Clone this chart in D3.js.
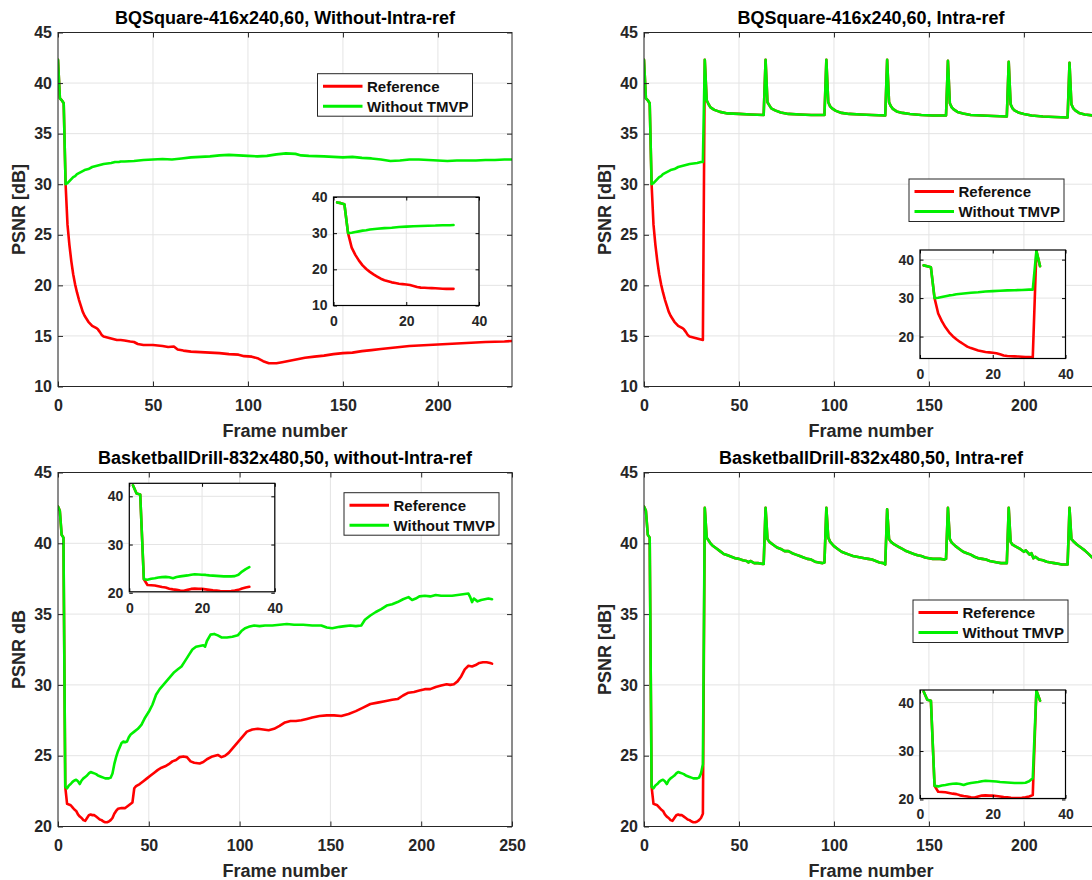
<!DOCTYPE html>
<html>
<head>
<meta charset="utf-8">
<script src="https://cdn.jsdelivr.net/npm/d3@7"></script>
<style>
  body { margin: 0; background: #fff; overflow: hidden; }
  svg { display: block; font-family: 'Liberation Sans', Arial, Helvetica, sans-serif; font-weight: bold; }
</style>
</head>
<body>
<div id="chart"></div>
<script>
// ── data: [frame, PSNR] ─────────────────────────────────────────
const seriesNames = ['Reference', 'Without TMVP']

// BQSquare, first GOP (same in both configurations)
const bqRefStart = [[0,42.3],[1,38.5],[2,38.3],[3,38.0],[4,30.0],[5,26.0],[6,24.0],[7,22.4],[8,21.1],[9,20.1],[10,19.3],[11,18.6],[12,18.0],[13,17.4],[14,17.0],[15,16.7],[16,16.4],[17,16.2],[18,16.0],[19,15.9],[20,15.8],[21,15.65],[22,15.4],[23,15.1],[24,14.95],[25,14.9],[26,14.85],[27,14.8],[28,14.75],[29,14.7],[30,14.65],[31,14.6]]
const bqNoTmvpStart = [[0,42.3],[1,38.5],[2,38.3],[3,38.0],[4,30.0],[5,30.1],[6,30.3],[7,30.5],[8,30.7],[9,30.8],[10,31.0],[12,31.2],[14,31.4],[16,31.5],[18,31.7],[20,31.8],[22,31.9],[24,32.0],[26,32.05],[28,32.1],[30,32.2],[31,32.2]]

// BQSquare, without intra refresh
const bqRefTail = [[32,14.6],[33,14.6],[35,14.55],[38,14.45],[40,14.4],[42,14.2],[45,14.1],[50,14.1],[55,14.0],[58,13.9],[61,13.95],[63,13.65],[66,13.55],[70,13.45],[75,13.4],[80,13.35],[85,13.3],[90,13.2],[95,13.15],[98,13.0],[102,12.95],[105,12.8],[108,12.5],[111,12.3],[115,12.3],[118,12.4],[122,12.55],[126,12.7],[130,12.85],[135,12.95],[140,13.05],[145,13.2],[150,13.3],[155,13.35],[160,13.5],[165,13.6],[170,13.7],[175,13.8],[180,13.9],[185,14.0],[190,14.05],[195,14.1],[200,14.15],[205,14.2],[210,14.25],[215,14.3],[220,14.35],[225,14.4],[230,14.42],[235,14.45],[239,14.5]]
const bqNoTmvpTail = [[32,32.2],[33,32.25],[35,32.25],[40,32.3],[45,32.4],[50,32.45],[55,32.5],[60,32.45],[65,32.55],[70,32.65],[75,32.7],[80,32.75],[85,32.85],[90,32.9],[95,32.85],[100,32.8],[105,32.75],[110,32.8],[115,32.95],[120,33.05],[125,33.0],[128,32.85],[132,32.8],[140,32.75],[145,32.7],[150,32.65],[155,32.7],[160,32.6],[165,32.55],[170,32.45],[175,32.3],[180,32.35],[185,32.45],[190,32.45],[195,32.4],[200,32.35],[205,32.3],[210,32.35],[215,32.35],[220,32.35],[225,32.4],[230,32.4],[235,32.45],[239,32.45]]

// BQSquare, intra refresh every 32 frames (both curves coincide)
const bqIntraTail = [
  [32,42.3],[33,38.3],[34,37.9],[35,37.6],[37,37.35],[40,37.15],[44,37.0],[50,36.95],[56,36.9],[63,36.85],
  [64,42.3],[65,38.1],[66,37.8],[67,37.5],[69,37.3],[72,37.1],[76,36.95],[82,36.9],[88,36.85],[95,36.85],
  [96,42.3],[97,38.1],[98,37.7],[99,37.5],[101,37.25],[104,37.05],[108,36.95],[114,36.9],[120,36.85],[127,36.8],
  [128,42.3],[129,38.1],[130,37.7],[131,37.45],[133,37.2],[136,37.05],[140,36.95],[146,36.85],[152,36.8],[159,36.8],
  [160,42.2],[161,38.0],[162,37.6],[163,37.4],[165,37.15],[168,37.0],[172,36.85],[178,36.8],[184,36.75],[191,36.7],
  [192,42.1],[193,37.9],[194,37.5],[195,37.3],[197,37.1],[200,36.95],[204,36.8],[210,36.7],[216,36.65],[223,36.6],
  [224,42.0],[225,37.9],[226,37.5],[227,37.3],[229,37.05],[232,36.9],[236,36.8],[239,36.75]]

// BasketballDrill, first GOP (same in both configurations)
const bdRefStart = [[0,42.6],[1,42.3],[2,40.6],[3,40.4],[4,22.8],[5,21.6],[6,21.55],[7,21.5],[8,21.35],[9,21.2],[10,21.1],[11,20.85],[12,20.7],[13,20.6],[14,20.45],[15,20.4],[16,20.6],[17,20.8],[18,20.85],[19,20.8],[20,20.8],[21,20.7],[22,20.6],[23,20.5],[24,20.45],[25,20.35],[26,20.3],[27,20.3],[28,20.35],[29,20.45],[30,20.6],[31,20.9]]
const bdNoTmvpStart = [[0,42.6],[1,42.3],[2,40.6],[3,40.4],[4,22.8],[5,22.7],[6,22.9],[7,23.0],[8,23.15],[9,23.25],[10,23.3],[11,23.2],[12,23.0],[13,23.25],[14,23.4],[15,23.5],[16,23.6],[17,23.75],[18,23.85],[19,23.8],[20,23.75],[21,23.7],[22,23.6],[23,23.55],[24,23.5],[25,23.45],[26,23.4],[27,23.4],[28,23.4],[29,23.45],[30,23.75],[31,24.4]]

// BasketballDrill, without intra refresh
const bdRefTail = [[32,21.1],[33,21.25],[35,21.3],[37,21.3],[39,21.5],[41,21.7],[42,22.7],[43,22.85],[45,23.0],[47,23.2],[49,23.4],[51,23.6],[53,23.8],[55,24.0],[57,24.15],[59,24.25],[61,24.4],[63,24.6],[65,24.7],[67,24.9],[69,24.95],[71,24.9],[73,24.6],[75,24.5],[78,24.45],[80,24.55],[82,24.75],[85,24.95],[88,25.05],[90,24.9],[92,25.0],[94,25.2],[96,25.5],[98,25.8],[100,26.1],[102,26.4],[104,26.7],[107,26.85],[110,26.9],[113,26.85],[116,26.8],[119,26.9],[122,27.1],[125,27.35],[128,27.45],[131,27.45],[134,27.5],[137,27.6],[140,27.7],[144,27.8],[148,27.85],[152,27.85],[156,27.8],[160,27.95],[164,28.15],[168,28.4],[172,28.65],[176,28.75],[180,28.85],[184,28.95],[187,29.0],[190,29.25],[193,29.45],[196,29.5],[199,29.6],[202,29.7],[205,29.7],[208,29.85],[211,29.95],[214,30.05],[216,30.0],[218,30.05],[220,30.25],[222,30.6],[224,31.1],[226,31.35],[228,31.3],[230,31.4],[232,31.55],[234,31.6],[236,31.6],[238,31.55],[239,31.5]]
const bdNoTmvpTail = [[32,24.9],[33,25.3],[34,25.6],[35,25.9],[36,26.0],[37,25.95],[38,26.0],[39,26.3],[40,26.5],[42,26.7],[44,26.9],[46,27.2],[48,27.7],[50,28.1],[52,28.6],[54,29.3],[56,29.7],[58,30.0],[60,30.3],[62,30.6],[64,30.9],[66,31.1],[68,31.3],[70,31.7],[72,32.1],[74,32.5],[76,32.7],[78,32.75],[80,32.8],[81,32.7],[82,33.1],[84,33.55],[86,33.6],[88,33.5],[90,33.35],[93,33.35],[96,33.4],[99,33.5],[101,33.8],[103,34.0],[105,34.1],[108,34.2],[111,34.15],[114,34.2],[118,34.2],[122,34.25],[126,34.3],[130,34.25],[135,34.25],[140,34.2],[145,34.2],[148,34.05],[151,34.0],[155,34.1],[158,34.15],[161,34.2],[164,34.15],[167,34.2],[169,34.6],[172,34.9],[175,35.15],[178,35.35],[181,35.6],[184,35.7],[187,35.85],[190,36.05],[193,36.2],[195,36.0],[197,36.1],[199,36.25],[202,36.3],[205,36.25],[208,36.35],[211,36.3],[214,36.3],[217,36.3],[220,36.35],[223,36.4],[226,36.45],[227,36.2],[228,35.85],[229,36.1],[231,35.9],[233,36.0],[235,36.05],[237,36.1],[239,36.05]]

// BasketballDrill, intra refresh every 32 frames (both curves coincide)
const bdIntraTail = [
  [32,42.5],[33,40.4],[34,40.2],[35,40.0],[36,39.85],[38,39.65],[40,39.45],[42,39.25],[44,39.15],[46,39.05],[48,38.95],[50,38.9],[52,38.8],[54,38.75],[55,38.65],[56,38.75],[58,38.6],[60,38.6],[62,38.55],[63,38.55],
  [64,42.5],[65,40.3],[66,40.1],[68,39.9],[70,39.7],[72,39.6],[74,39.45],[76,39.45],[78,39.3],[80,39.2],[82,39.1],[84,39.0],[86,38.9],[88,38.85],[90,38.7],[92,38.65],[94,38.6],[95,38.65],
  [96,42.5],[97,40.4],[98,40.1],[100,39.8],[102,39.6],[104,39.4],[106,39.3],[108,39.2],[110,39.1],[112,39.05],[114,39.0],[116,38.95],[118,38.9],[120,38.85],[122,38.75],[124,38.65],[126,38.6],[127,38.5],
  [128,42.4],[129,40.3],[130,40.1],[132,39.9],[134,39.75],[136,39.6],[138,39.45],[140,39.35],[142,39.25],[144,39.15],[146,39.1],[148,39.0],[150,38.95],[152,38.9],[154,38.9],[156,38.9],[158,38.85],[159,38.9],
  [160,42.5],[161,40.3],[162,40.05],[164,39.8],[166,39.6],[168,39.4],[170,39.3],[172,39.2],[174,39.05],[176,38.95],[178,38.9],[180,38.85],[182,38.75],[184,38.7],[186,38.65],[188,38.6],[190,38.6],[191,38.6],
  [192,42.5],[193,40.1],[194,39.9],[196,39.75],[198,39.6],[200,39.4],[201,39.5],[203,39.2],[204,39.3],[205,38.95],[206,39.05],[208,38.85],[210,38.8],[212,38.7],[214,38.65],[216,38.6],[218,38.55],[220,38.5],[222,38.5],[223,38.5],
  [224,42.5],[225,40.3],[226,40.15],[228,39.9],[230,39.7],[232,39.5],[234,39.25],[236,39.0],[238,38.9],[239,38.85]]

// ── ticks / labels ──────────────────────────────────────────────
const xTicks200 = [0, 50, 100, 150, 200]
const xTicks250 = [0, 50, 100, 150, 200, 250]
const yTicksBQ = [10, 15, 20, 25, 30, 35, 40, 45]
const yTicksBD = [20, 25, 30, 35, 40, 45]
const insetXTicks = [0, 20, 40]
const insetFrames = [1, 33]

const W = 1092, H = 880
const PLOT_W = 454, PLOT_H = 354
const INSET_W = 145.5, INSET_H = 108.5
const RED = '#ff0000', GREEN = '#00f000', GRID = '#e4e4e4', AXIS = '#262626'

const panels = [
  { x: 58, y: 32.5, title: 'BQSquare-416x240,60, Without-Intra-ref', yLabel: 'PSNR [dB]',
    xMax: 239, xTicks: xTicks200, yDomain: [10, 45], yTicks: yTicksBQ,
    ref: bqRefStart.concat(bqRefTail), noTmvp: bqNoTmvpStart.concat(bqNoTmvpTail),
    legend: [259.5, 41.2],
    inset: { x: 275.5, y: 164.5, yDomain: [10, 40], yTicks: [10, 20, 30, 40] } },
  { x: 644, y: 32.5, title: 'BQSquare-416x240,60, Intra-ref', yLabel: 'PSNR [dB]',
    xMax: 239, xTicks: xTicks200, yDomain: [10, 45], yTicks: yTicksBQ,
    ref: bqRefStart.concat(bqIntraTail), noTmvp: bqNoTmvpStart.concat(bqIntraTail),
    legend: [265, 146.5],
    inset: { x: 276, y: 217.5, yDomain: [14.3, 42.5], yTicks: [20, 30, 40] } },
  { x: 58, y: 472.5, title: 'BasketballDrill-832x480,50, without-Intra-ref', yLabel: 'PSNR dB',
    xMax: 250, xTicks: xTicks250, yDomain: [20, 45], yTicks: yTicksBD,
    ref: bdRefStart.concat(bdRefTail), noTmvp: bdNoTmvpStart.concat(bdNoTmvpTail),
    legend: [286, 20.2],
    inset: { x: 71.3, y: 10.8, yDomain: [20.2, 42.7], yTicks: [20, 30, 40] } },
  { x: 644, y: 472.5, title: 'BasketballDrill-832x480,50, Intra-ref', yLabel: 'PSNR [dB]',
    xMax: 239, xTicks: xTicks200, yDomain: [20, 45], yTicks: yTicksBD,
    ref: bdRefStart.concat(bdIntraTail), noTmvp: bdNoTmvpStart.concat(bdIntraTail),
    legend: [269, 127.5],
    inset: { x: 276, y: 217.5, yDomain: [20.2, 42.6], yTicks: [20, 30, 40] } },
]

const svg = d3.select('#chart').append('svg')
  .attr('width', W).attr('height', H)
const defs = svg.append('defs')

// ── helpers ─────────────────────────────────────────────────────
function drawGrid(g, x, y, xTicks, yTicks) {
  const w = x.range()[1], h = y.range()[0]
  g.append('rect').attr('width', w).attr('height', h).attr('fill', '#fff')
  g.append('g').selectAll('line').data(xTicks).join('line')
    .attr('x1', d => x(d)).attr('x2', d => x(d)).attr('y1', 0).attr('y2', h)
    .attr('stroke', GRID).attr('stroke-width', 1)
  g.append('g').selectAll('line').data(yTicks).join('line')
    .attr('x1', 0).attr('x2', w).attr('y1', d => y(d)).attr('y2', d => y(d))
    .attr('stroke', GRID).attr('stroke-width', 1)
}

function drawAxes(g, x, y, xTicks, yTicks, o) {
  const w = x.range()[1], h = y.range()[0]
  const put = (axis, tr) => g.append('g').attr('transform', tr).call(axis)
    .attr('font-family', null).attr('font-size', o.font).attr('color', o.color)
    .call(s => s.select('.domain').remove())
  put(d3.axisBottom(x).tickValues(xTicks).tickSizeInner(-o.tick).tickSizeOuter(0).tickPadding(o.xPad), `translate(0,${h})`)
  put(d3.axisLeft(y).tickValues(yTicks).tickSizeInner(-o.tick).tickSizeOuter(0).tickPadding(o.yPad), 'translate(0,0)')
  put(d3.axisTop(x).tickValues(xTicks).tickSizeInner(-o.tick).tickSizeOuter(0).tickFormat(''), 'translate(0,0)')
  put(d3.axisRight(y).tickValues(yTicks).tickSizeInner(-o.tick).tickSizeOuter(0).tickFormat(''), `translate(${w},0)`)
  g.selectAll('.tick text').attr('fill', o.text)
  g.append('rect').attr('width', w).attr('height', h)
    .attr('fill', 'none').attr('stroke', o.color).attr('stroke-width', o.box)
}

function drawLines(g, x, y, series, clipId) {
  defs.append('clipPath').attr('id', clipId)
    .append('rect').attr('width', x.range()[1]).attr('height', y.range()[0])
  const line = d3.line().x(d => x(d[0])).y(d => y(d[1]))
  g.append('g').attr('clip-path', `url(#${clipId})`)
    .selectAll('path').data(series).join('path')
    .attr('d', d => line(d.values)).attr('fill', 'none')
    .attr('stroke', d => d.color).attr('stroke-width', 2.6)
    .attr('stroke-linejoin', 'round').attr('stroke-linecap', 'round')
}

// ── panels ──────────────────────────────────────────────────────
panels.forEach((p, i) => {
  const g = svg.append('g').attr('transform', `translate(${p.x},${p.y})`)
  const x = d3.scaleLinear().domain([0, p.xMax]).range([0, PLOT_W])
  const y = d3.scaleLinear().domain(p.yDomain).range([PLOT_H, 0])
  const series = [{ color: RED, values: p.ref }, { color: GREEN, values: p.noTmvp }]

  drawGrid(g, x, y, p.xTicks, p.yTicks)
  drawLines(g, x, y, series, `clip-main-${i}`)
  drawAxes(g, x, y, p.xTicks, p.yTicks, { font: 16, tick: 5, xPad: 13.5, yPad: 6, color: AXIS, text: AXIS, box: 1 })

  g.append('text').attr('x', PLOT_W / 2).attr('y', -9)
    .attr('text-anchor', 'middle').attr('font-size', 18).attr('fill', '#000').text(p.title)
  g.append('text').attr('x', PLOT_W / 2).attr('y', PLOT_H + 50)
    .attr('text-anchor', 'middle').attr('font-size', 18).attr('fill', AXIS).text('Frame number')
  g.append('text').attr('transform', `translate(-33,${PLOT_H / 2}) rotate(-90)`)
    .attr('text-anchor', 'middle').attr('font-size', 18).attr('fill', AXIS).text(p.yLabel)

  // ── legend ──
  const lg = g.append('g').attr('transform', `translate(${p.legend[0]},${p.legend[1]})`)
  lg.append('rect').attr('width', 155).attr('height', 42.5)
    .attr('fill', '#fff').attr('stroke', AXIS).attr('stroke-width', 1)
  const rows = lg.selectAll('g.row').data(series).join('g').attr('class', 'row')
    .attr('transform', (_, k) => `translate(0,${12.5 + k * 20})`)
  rows.append('line').attr('x1', 5.5).attr('x2', 45).attr('stroke', d => d.color).attr('stroke-width', 3)
  rows.append('text').attr('x', 49.5).attr('y', 5.3)
    .attr('font-size', 15).attr('fill', '#111').text((_, k) => seriesNames[k])

  // ── inset: first frames zoomed ──
  const ins = p.inset
  const ig = g.append('g').attr('transform', `translate(${ins.x},${ins.y})`)
  const ix = d3.scaleLinear().domain([0, 40]).range([0, INSET_W])
  const iy = d3.scaleLinear().domain(ins.yDomain).range([INSET_H, 0])
  const inFrames = v => v.filter(d => d[0] >= insetFrames[0] && d[0] <= insetFrames[1])
  drawGrid(ig, ix, iy, insetXTicks, ins.yTicks)
  drawLines(ig, ix, iy, series.map(s => ({ color: s.color, values: inFrames(s.values) })), `clip-inset-${i}`)
  drawAxes(ig, ix, iy, insetXTicks, ins.yTicks, { font: 14, tick: 3.5, xPad: 11, yPad: 6, color: '#000', text: AXIS, box: 1.2 })
})
</script>
</body>
</html>
